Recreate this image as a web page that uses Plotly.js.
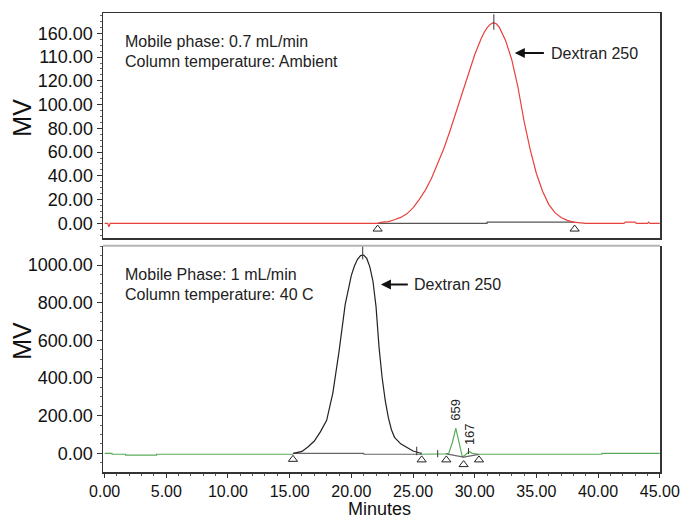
<!DOCTYPE html>
<html>
<head>
<meta charset="utf-8">
<script src="https://cdn.plot.ly/plotly-3.0.1.min.js"></script>
<style>html,body{margin:0;padding:0;background:#fff;}#chart{width:680px;height:520px;}</style>
</head>
<body>
<div id="chart"></div>
<script>
// ---- Top panel (0.7 mL/min, ambient) ----
const topTime   = [0, 0.25, 0.35, 0.45, 1, 10, 20, 22.1, 22.5, 23, 23.5, 24, 24.5, 25, 25.5, 26, 26.5, 27, 27.5, 28, 28.5, 29, 29.5, 30, 30.5, 30.75, 31, 31.25, 31.5, 31.75, 32, 32.25, 32.5, 33, 33.5, 34, 34.5, 35, 35.5, 36, 36.5, 37, 37.5, 38, 38.5, 39, 42.1, 42.2, 43.0, 43.1, 44.0, 44.1, 44.2, 45];
const topSignal = [0, 0, -3, 0, 0, 0, 0, 0, 1, 1.5, 3, 5, 8, 13, 20, 28, 38, 50, 63, 78, 94, 111, 127, 142, 155, 160.5, 164.5, 167.5, 169, 168, 165, 160, 154, 138, 115, 86, 62, 42, 27, 16, 9, 5, 2.5, 1, 0.5, 0, 0, 1, 1, 0, 0, 1, 0, 0];
const topBaseTime = [22.13, 31, 31.01, 38.1];
const topBaseVal  = [0, 0, 1, 1];
const topMarkX = [22.13, 38.1];
const topMarkY = [-4.8, -4.8];
const topPeakX = [31.55, 31.55];
const topPeakY = [163, 176];
const topTickVals = [0, 20, 40, 60, 80, 100, 120, 140, 160];
const topTickText = ['0.00', '20.00', '40.00', '60.00', '80.00', '100.00', '120.00', '110.00', '160.00'];

// ---- Bottom panel (1 mL/min, 40 C) ----
const botTime    = [15.3, 15.75, 16, 16.5, 17, 17.5, 18, 18.5, 19, 19.5, 20, 20.25, 20.5, 20.75, 21, 21.25, 21.5, 21.75, 22, 22.25, 22.5, 22.75, 23, 23.25, 23.5, 24, 24.5, 25, 25.5, 25.7];
const botDextran = [0, 5, 10, 35, 65, 115, 175, 320, 540, 790, 945, 995, 1030, 1050, 1053, 1035, 990, 915, 780, 560, 400, 280, 190, 125, 85, 50, 30, 12, 3, 0];
const greenTime   = [0, 0.6, 0.61, 1.7, 1.71, 4.2, 4.21, 15.3, 15.31, 25.6, 27.0, 27.6, 27.9, 28.2, 28.47, 28.7, 29.0, 29.2, 29.45, 29.55, 29.8, 30.3, 40.3, 40.31, 45];
const greenSignal = [0, 0, -5, -5, -10, -10, -5, -5, null, -5, -5, -3, 0, 60, 133, 60, -20, -10, 5, 10, 0, -5, -5, 0, 0];
const botBaseTime = [15.27, 21, 21.01, 25.7, null, 27.7, 29.1, 30.35];
const botBaseVal  = [0, 0, -5, -5, null, -3, -20, -6];
const botMarkX = [15.27, 25.7, 27.7, 29.1, 30.35];
const botMarkY = [-32, -35, -35, -60, -35];
const botPeakX = [20.92, 20.92, null, 25.3, 25.3, null, 27.0, 27.0, null, 29.5, 29.5];
const botPeakY = [1030, 1105, null, -10, 35, null, -21, 17, null, -4, 28];
const botTickVals = [0, 200, 400, 600, 800, 1000];
const xTickVals = [0, 5, 10, 15, 20, 25, 30, 35, 40, 45];

const FONT = 'Liberation Sans, Arial, Helvetica, sans-serif';
const INK = '#333333';

const traces = [
  {x: topBaseTime, y: topBaseVal, xaxis: 'x', yaxis: 'y', mode: 'lines', line: {color: '#555555', width: 1.2}, hoverinfo: 'skip', showlegend: false},
  {x: topTime, y: topSignal, xaxis: 'x', yaxis: 'y', mode: 'lines', line: {color: '#e8403c', width: 1.2}, showlegend: false},
  {x: topMarkX, y: topMarkY, xaxis: 'x', yaxis: 'y', mode: 'markers', marker: {symbol: 'triangle-up-open', size: 8, color: '#222', line: {width: 1}}, cliponaxis: false, showlegend: false},
  {x: topPeakX, y: topPeakY, xaxis: 'x', yaxis: 'y', mode: 'lines', line: {color: '#333', width: 1}, showlegend: false},

  {x: greenTime, y: greenSignal, xaxis: 'x2', yaxis: 'y2', mode: 'lines', line: {color: '#5aab5a', width: 1.2}, connectgaps: false, showlegend: false},
  {x: botBaseTime, y: botBaseVal, xaxis: 'x2', yaxis: 'y2', mode: 'lines', line: {color: '#666666', width: 1.2}, connectgaps: false, hoverinfo: 'skip', showlegend: false},
  {x: botTime, y: botDextran, xaxis: 'x2', yaxis: 'y2', mode: 'lines', line: {color: '#222222', width: 1.2}, showlegend: false},
  {x: botMarkX, y: botMarkY, xaxis: 'x2', yaxis: 'y2', mode: 'markers', marker: {symbol: 'triangle-up-open', size: 8, color: '#222', line: {width: 1}}, showlegend: false},
  {x: botPeakX, y: botPeakY, xaxis: 'x2', yaxis: 'y2', mode: 'lines', line: {color: '#333', width: 1}, connectgaps: false, showlegend: false}
];

const txt = (s, x, y, xr, yr, extra) => Object.assign({text: s, x: x, y: y, xref: xr, yref: yr, xanchor: 'left', yanchor: 'middle', showarrow: false, font: {family: FONT, size: 16, color: '#222'}}, extra || {});
const arrow = (x, y, ax, xr, yr) => ({text: '', x: x, y: y, ax: ax, ay: y, xref: xr, yref: yr, axref: xr, ayref: yr, showarrow: true, arrowhead: 2, arrowsize: 1, arrowwidth: 2, arrowcolor: '#111'});

const annotations = [
  txt('Mobile phase: 0.7 mL/min', 1.5, 152.9, 'x', 'y'),
  txt('Column temperature: Ambient', 1.5, 136.1, 'x', 'y'),
  arrow(33.25, 143.4, 35.73, 'x', 'y'),
  txt('Dextran 250', 36.0, 143.4, 'x', 'y'),
  txt('Mobile Phase: 1 mL/min', 1.5, 947, 'x2', 'y2'),
  txt('Column temperature: 40 C', 1.5, 841, 'x2', 'y2'),
  arrow(22.4, 897, 24.7, 'x2', 'y2'),
  txt('Dextran 250', 24.9, 897, 'x2', 'y2'),
  txt('659', 28.47, 230, 'x2', 'y2', {xanchor: 'center', textangle: -90, font: {family: FONT, size: 13, color: '#222'}}),
  txt('167', 29.54, 102, 'x2', 'y2', {xanchor: 'center', textangle: -90, font: {family: FONT, size: 13, color: '#222'}}),
  txt('MV', -0.1444, 0.771, 'paper', 'paper', {xanchor: 'center', textangle: -90, font: {family: FONT, size: 25, color: '#111'}}),
  txt('MV', -0.1444, 0.285, 'paper', 'paper', {xanchor: 'center', textangle: -90, font: {family: FONT, size: 25, color: '#111'}}),
  txt('Minutes', 0.497, -0.1042, 'paper', 'paper', {xanchor: 'center', yanchor: 'bottom', borderpad: 0, font: {family: FONT, size: 18, color: '#111'}})
];

const tickFont = {family: FONT, size: 16, color: '#111'};
const layout = {
  width: 680, height: 520, autosize: false,
  margin: {l: 103, r: 20, t: 13, b: 48, pad: 0},
  paper_bgcolor: '#ffffff', plot_bgcolor: '#ffffff',
  showlegend: false,
  font: {family: FONT},
  xaxis: {domain: [0, 1], range: [-0.13, 45.02], anchor: 'y', showline: true, mirror: true, linecolor: INK, linewidth: 1.5,
          showgrid: false, zeroline: false, ticks: '', showticklabels: false},
  yaxis: {domain: [0.5091, 1], range: [-12.6, 177.1], anchor: 'x', showline: true, mirror: true, linecolor: INK, linewidth: 1.5,
          showgrid: false, zeroline: false, ticks: 'outside', ticklen: 5, tickwidth: 1, tickcolor: INK,
          tickvals: topTickVals, ticktext: topTickText, tickfont: {family: FONT, size: 18, color: '#111'},
          minor: {ticks: 'outside', ticklen: 2, tickwidth: 1, tickcolor: '#666', dtick: 5, tick0: 0, showgrid: false}},
  xaxis2: {domain: [0, 1], range: [-0.13, 45.02], anchor: 'y2', showline: true, mirror: false, linecolor: INK, linewidth: 1.5,
           showgrid: false, zeroline: false, ticks: 'outside', ticklen: 4, tickwidth: 1, tickcolor: INK,
           tickvals: xTickVals, tickformat: '.2f', tickfont: tickFont, ticklabeloverflow: 'allow',
           minor: {ticks: 'outside', ticklen: 2, tickwidth: 1, tickcolor: '#555', dtick: 1, tick0: 0, showgrid: false}},
  yaxis2: {domain: [0, 0.4930], range: [-99.3, 1102.5], anchor: 'x2', showline: true, mirror: true, linecolor: INK, linewidth: 1.5,
           showgrid: false, zeroline: false, ticks: 'outside', ticklen: 5, tickwidth: 1, tickcolor: INK,
           tickvals: botTickVals, tickformat: '.2f', tickfont: {family: FONT, size: 18, color: '#111'},
           minor: {ticks: 'outside', ticklen: 2, tickwidth: 1, tickcolor: '#666', dtick: 50, tick0: 0, showgrid: false}},
  shapes: [
    {type: 'line', xref: 'paper', yref: 'y2 domain', x0: 0, x1: 1, y0: 1, y1: 1, line: {color: '#b5b5b5', width: 2}}
  ],
  annotations: annotations
};

Plotly.newPlot('chart', traces, layout, {staticPlot: true, displayModeBar: false});
</script>
</body>
</html>
